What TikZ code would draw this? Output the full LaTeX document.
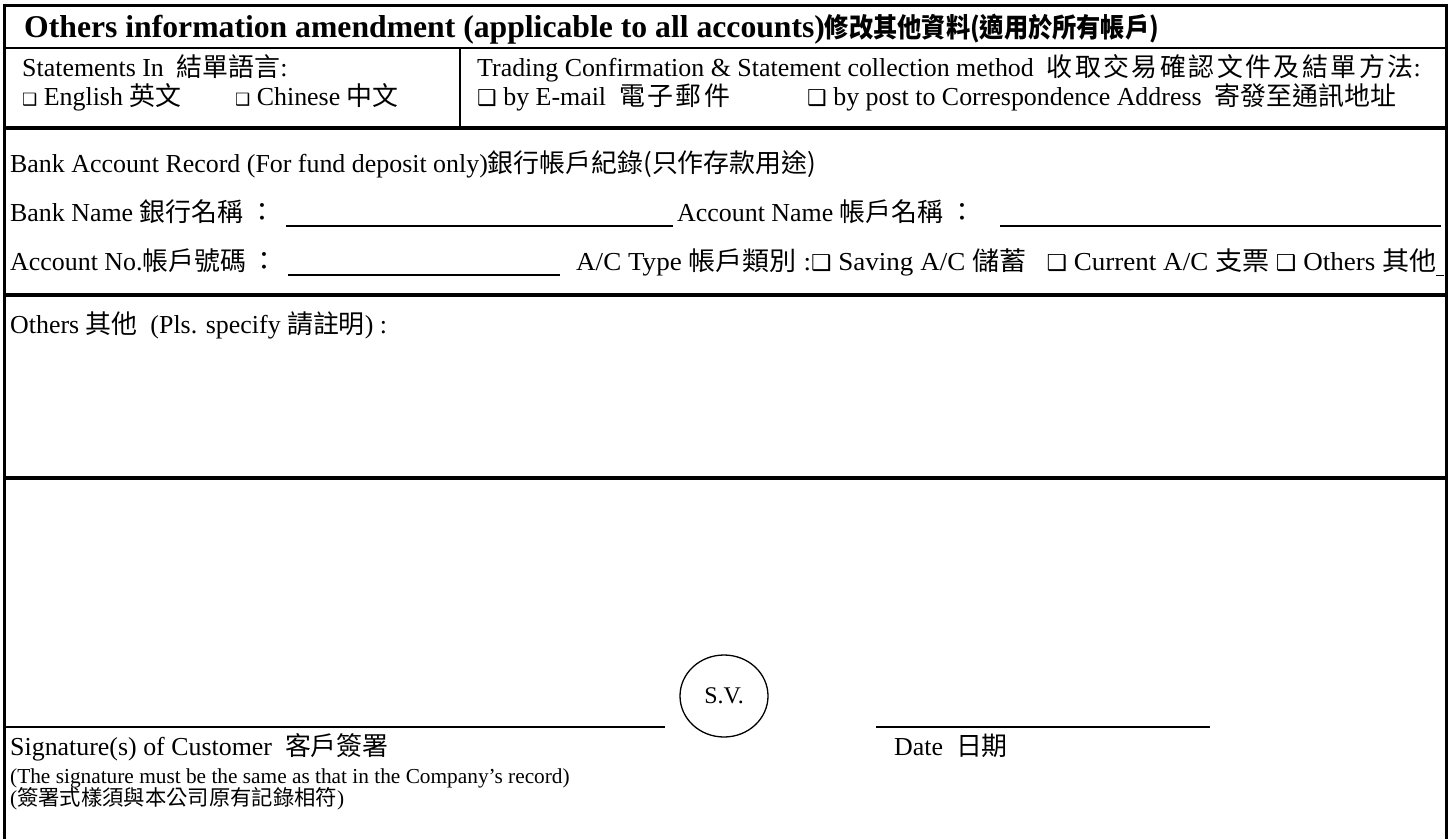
\documentclass[tikz,border=0pt]{standalone}
\usepackage{fontspec}
\usepackage{graphicx}
\usetikzlibrary{shapes.geometric}
\setmainfont{Liberation Serif}
\newfontfamily\cjk{Noto Sans CJK TC}
\newfontfamily\cjkt{Noto Sans CJK TC}[FakeStretch=0.9]
\newfontfamily\dvs{DejaVu Sans}
\newcommand\cbx{{\fontsize{22}{22}\dvs\char"2751}}
\newcommand\cbs{{\fontsize{17}{17}\dvs\char"2751}}
\makeatletter
\newcommand\spaced[2]{\def\sp@gap{#1}\@tfor\sp@c:=#2\do{\sp@c\hspace{\sp@gap}}}
\makeatother
\begin{document}
\begin{tikzpicture}[x=1bp,y=-1bp,
  txt/.style={anchor=base west, inner sep=0pt, font=\fontsize{26}{30}\selectfont},
  ttl/.style={anchor=base west, inner sep=0pt, font=\fontsize{31.8}{34}\selectfont\bfseries},
  small/.style={anchor=base west, inner sep=0pt, font=\fontsize{21.4}{24}\selectfont},
  frame/.style={line width=3bp},
  rule/.style={line width=2bp},
  thick rule/.style={line width=3.5bp},
  uline/.style={line width=2bp}]
\useasboundingbox (0,0) rectangle (1450,839);
\fill[white] (0,0) rectangle (1450,839);
% frame and dividers
\coordinate (bl) at (4.5,839); \coordinate (tl) at (4.5,5.5);
\coordinate (tr) at (1446,5.5); \coordinate (br) at (1446,839);
\draw[frame] (bl) -- (tl) -- (tr) -- (br);
\draw[rule] (4.5,48) -- (1446,48);
\draw[rule] (460,48) -- (460,128);
\draw[thick rule] (4.5,128) -- (1446,128);
\draw[thick rule] (4.5,295) -- (1446,295);
\draw[thick rule] (4.5,478) -- (1446,478);
% title
\node[ttl] (title) at (24,37) {Others information amendment (applicable to all accounts){\cjkt\fontsize{27}{30}\selectfont 修改其他資料(適用於所有帳戶)}};
% row 2
\node[txt] (stmt) at (22,76) {Statements In\ \ {\cjk 結單語言}:};
\node[txt] (eng) at (22,105) {\cbs\ English {\cjk 英文}};
\node[txt] (chi) at (235,105) {\cbs\ Chinese\ {\cjk 中文}};
\node[txt] (trad) at (477,76) {Trading Confirmation \& Statement collection method\ \ {\cjk\spaced{2.5bp}{收取交易確認文件及結單方法}}\hspace{-2.5bp}:};
\node[txt] (email) at (477,105) {\cbx\ by E-mail\ \ {\cjk\spaced{2.5bp}{電子郵件}}};
\node[txt] (post) at (807,105) {\cbx\ by post to Correspondence Address\ \ {\cjk 寄發至通訊地址}};
% bank
\node[txt] (bar) at (10,172) {Bank Account Record (For fund deposit only){\cjk 銀行帳戶紀錄(只作存款用途)}};
\node[txt] (bname) at (10,221) {Bank Name {\cjk 銀行名稱\ ：}};
\coordinate (bn1) at (286,226); \coordinate (bn2) at (673,226);
\draw[uline] (bn1) -- (bn2);
\node[txt] (aname) at (677,221) {Account Name {\cjk 帳戶名稱\ ：}};
\coordinate (an1) at (1000,226); \coordinate (an2) at (1441,226);
\draw[uline] (an1) -- (an2);
\node[txt] (ano) at (10,270) {Account No.{\cjk 帳戶號碼\ ：}};
\coordinate (ao1) at (288,275); \coordinate (ao2) at (560,275);
\draw[uline] (ao1) -- (ao2);
\node[txt] (actype) at (576,270) {\resizebox{860bp}{\height}{A/C Type {\cjk 帳戶類別}\ :\cbx\ Saving A/C\ {\cjk 儲蓄}\ \ \ \cbx\ Current A/C\ {\cjk 支票}\ \cbx\ Others\ {\cjk 其他}}};
\coordinate (st1) at (1436,275); \coordinate (st2) at (1444,275);
\draw[line width=1bp] (st1) -- (st2);
% others
\node[txt] (others) at (10,333) {Others {\cjk 其他}\ \ (Pls. specify {\cjk 請註明}) :};
% signature
\node[draw, line width=1.3bp, ellipse, minimum width=88bp, minimum height=82bp, inner sep=0pt, font=\fontsize{24}{28}\selectfont] (sv) at (724,696) {S.V.};
\coordinate (s1) at (4.5,727); \coordinate (s2) at (665,727);
\draw[line width=2.5bp] (s1) -- (s2);
\coordinate (d1) at (876,727); \coordinate (d2) at (1210,727);
\draw[line width=2.5bp] (d1) -- (d2);
\node[txt] (sig) at (10,755) {Signature(s) of Customer\ \ {\cjk 客戶簽署}};
\node[small] (note1) at (10,783) {(The signature must be the same as that in the Company’s record)};
\node[small] (note2) at (10,805) {({\cjk 簽署式樣須與本公司原有記錄相符})};
\node[txt] (date) at (894,755) {Date\ \ {\cjk 日期}};
\end{tikzpicture}
\end{document}
